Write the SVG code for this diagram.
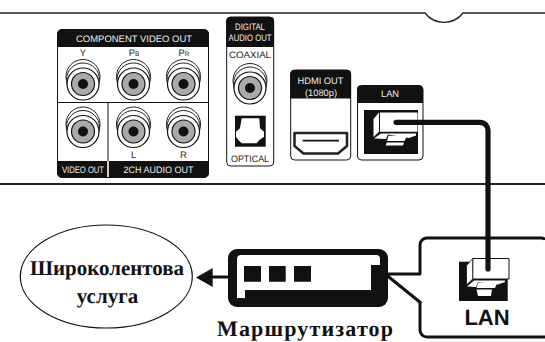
<svg xmlns="http://www.w3.org/2000/svg" width="545" height="342" viewBox="0 0 545 342">
<style>
text{text-rendering:geometricPrecision}
.l{font-family:"Liberation Sans",Arial,sans-serif;font-size:9.4px;text-anchor:middle;fill:#222}
.lw{fill:#eee}
.w{fill:#fff}.k{fill:#111}
.b{font-family:"Liberation Serif","Times New Roman",serif;font-weight:bold;font-size:21px;text-anchor:middle;fill:#111}
.o{fill:#fff;stroke:#222;stroke-width:1}
</style>
<defs>
<g id="rca">
<circle cx="0" cy="-7.500" r="17" class="o"/>
<circle cx="0" cy="-4.500" r="16.500" class="o"/>
<circle r="16" fill="#fff" stroke="#111" stroke-width="1.200"/>
<circle r="11.500" fill="#aaa" stroke="#111" stroke-width="1.200"/>
<circle r="5" fill="#111"/>
</g>
</defs>
<rect width="545" height="342" fill="#fff"/>
<g id="panel" fill="none" stroke="#222">
<path d="M0 13H425A24 24 0 0 0 463 13H545" stroke-width="1.300"/>
<path d="M0 184H545" stroke-width="2.200"/>
</g>
<g id="component-block">
<rect x="57.500" y="29.500" width="151" height="148" rx="5" fill="#fff" stroke="#111"/>
<path d="M57 34a5 5 0 0 1 5-5H204a5 5 0 0 1 5 5V47H57Z" class="k"/>
<path d="M57 161H107.200V178H62a5 5 0 0 1-5-5ZM108.800 161H209V173a5 5 0 0 1-5 5H108.800Z" class="k"/>
<path d="M57 102.500H209M108 102.500V161" stroke="#111" fill="none"/>
<text x="134" y="42" class="l lw" textLength="116" lengthAdjust="spacingAndGlyphs">COMPONENT VIDEO OUT</text>
<text x="83" y="172.500" class="l lw" textLength="42" lengthAdjust="spacingAndGlyphs">VIDEO OUT</text>
<text x="158.500" y="172.500" class="l lw" textLength="70" lengthAdjust="spacingAndGlyphs">2CH AUDIO OUT</text>
<text x="83" y="56" class="l">Y</text>
<text x="134" y="56" class="l">P<tspan font-size="6.500">B</tspan></text>
<text x="184" y="56" class="l">P<tspan font-size="6.500">R</tspan></text>
<text x="133.500" y="157.500" class="l">L</text>
<text x="183.500" y="157.500" class="l">R</text>
<use href="#rca" x="83" y="84"/><use href="#rca" x="133.500" y="84"/><use href="#rca" x="183.500" y="84"/>
<use href="#rca" x="83" y="131.500"/><use href="#rca" x="133.500" y="131.500"/><use href="#rca" x="183.500" y="131.500"/>
</g>
<g id="digital-audio">
<rect x="226.700" y="17" width="47" height="149" rx="4" fill="#fff" stroke="#111"/>
<path d="M226.200 21a4 4 0 0 1 4-4H270a4 4 0 0 1 4 4V47H226.200Z" class="k"/>
<text x="250" y="29.500" class="l lw" textLength="30" lengthAdjust="spacingAndGlyphs">DIGITAL</text>
<text x="250" y="41" class="l lw" textLength="43" lengthAdjust="spacingAndGlyphs">AUDIO OUT</text>
<text x="250" y="58" class="l" textLength="42" lengthAdjust="spacingAndGlyphs">COAXIAL</text>
<use href="#rca" x="250" y="88"/>
<rect x="235" y="115.700" width="30.700" height="31" class="k"/>
<path d="M241.700 118.300H259.300L260 128.300L264 131.700V136.700L259.300 140L256.700 143.300H241.700L238.300 140L236 136.700V131.700L240 128.300Z" class="w"/>
<text x="250" y="162" class="l" textLength="38" lengthAdjust="spacingAndGlyphs">OPTICAL</text>
</g>
<g id="hdmi">
<rect x="290.700" y="70" width="60" height="90" rx="4" fill="#fff" stroke="#111"/>
<path d="M290.200 74a4 4 0 0 1 4-4H347a4 4 0 0 1 4 4V98.500H290.200Z" class="k"/>
<text x="320.500" y="83.500" class="l lw" textLength="46" lengthAdjust="spacingAndGlyphs">HDMI OUT</text>
<text x="321" y="95.500" class="l lw" textLength="32" lengthAdjust="spacingAndGlyphs">(1080p)</text>
<path d="M294.500 133H347V146L338 153.500H303.500L294.500 146Z" fill="#fff" stroke="#222" stroke-width="2.500" stroke-linejoin="round"/>
<path d="M302.700 140.700H339" stroke="#111" stroke-width="1.800"/>
</g>
<g id="lan-port">
<rect x="357.500" y="85.500" width="65.500" height="74.500" rx="4" fill="#fff" stroke="#111"/>
<path d="M357 89.500a4 4 0 0 1 4-4H419a4 4 0 0 1 4 4V103H357Z" class="k"/>
<text x="390" y="97" class="l lw" textLength="18" lengthAdjust="spacingAndGlyphs">LAN</text>
<rect x="364" y="110" width="54" height="44" class="k"/>
<path d="M380 112.500H417.500V131.800H380Z" class="w"/>
<path d="M379 112.500L373.500 119V137L379 131.800Z" class="w"/>
<path d="M374 138.500L381 133.500H416V135.500L409 138L388 134.500L386 139Z" class="w"/>
<path d="M388.500 135.800H407L404.500 141H387ZM386.700 142.500H404L403 145.500H385.700Z" class="w"/>
</g>
<g id="broadband">
<ellipse cx="106.300" cy="276.500" rx="86" ry="51.500" fill="#fff" stroke="#111" stroke-width="1.200"/>
<text x="107" y="275" class="b" textLength="154" lengthAdjust="spacingAndGlyphs">Широколентова</text>
<text x="107.500" y="303" class="b">услуга</text>
</g>
<g id="router">
<rect x="228" y="249" width="160" height="58" rx="9" class="k"/>
<path d="M241 255H376a4 4 0 0 1 4 4V265H371V290H245V298H237V259a4 4 0 0 1 4-4Z" class="w"/>
<path d="M244 266H261V281.700H244ZM269 266H285.700V281.700H269ZM294 266H311V281.700H294Z" class="k"/>
<text x="305" y="336" class="b" style="font-size:22px" textLength="176" lengthAdjust="spacing">Маршрутизатор</text>
</g>
<g id="lan-callout">
<path d="M545 240V239.500Q544 238 541 238H427a7 7 0 0 0-7 7V274M420 302V330a7 7 0 0 0 7 7H545" fill="none" stroke="#111" stroke-width="3"/>
<rect x="459" y="261.700" width="48.700" height="39.300" class="k"/>
<path d="M472.700 258.500H509V279H472.700Z" class="w" stroke="#111"/>
<path d="M472.700 258.500L466.500 265.500V285L472.700 279Z" class="w" stroke="#111" stroke-width=".8"/>
<path d="M467 286.500L474 280.500H505V282L498 284.500L478 282L476 287Z" class="w"/>
<path d="M478 282.500H497.500L495 288H476.500ZM476.500 289.500H492L491 296H478Z" class="w"/>
<text x="487" y="325" font-family="'Liberation Sans',Arial,sans-serif" font-weight="bold" font-size="22" text-anchor="middle" fill="#111">LAN</text>
</g>
<g id="connectors" fill="none" stroke="#111">
<path d="M396 122.300H480a8 8 0 0 1 8 8V269" stroke-width="5.200" stroke-linecap="round"/>
<path d="M230 277H212" stroke-width="3"/>
<path d="M196 277.500L212.700 268V287Z" class="k" stroke="none"/>
<path d="M387 274H421M387 275.500L421 303" stroke-width="3"/>
</g>
</svg>
